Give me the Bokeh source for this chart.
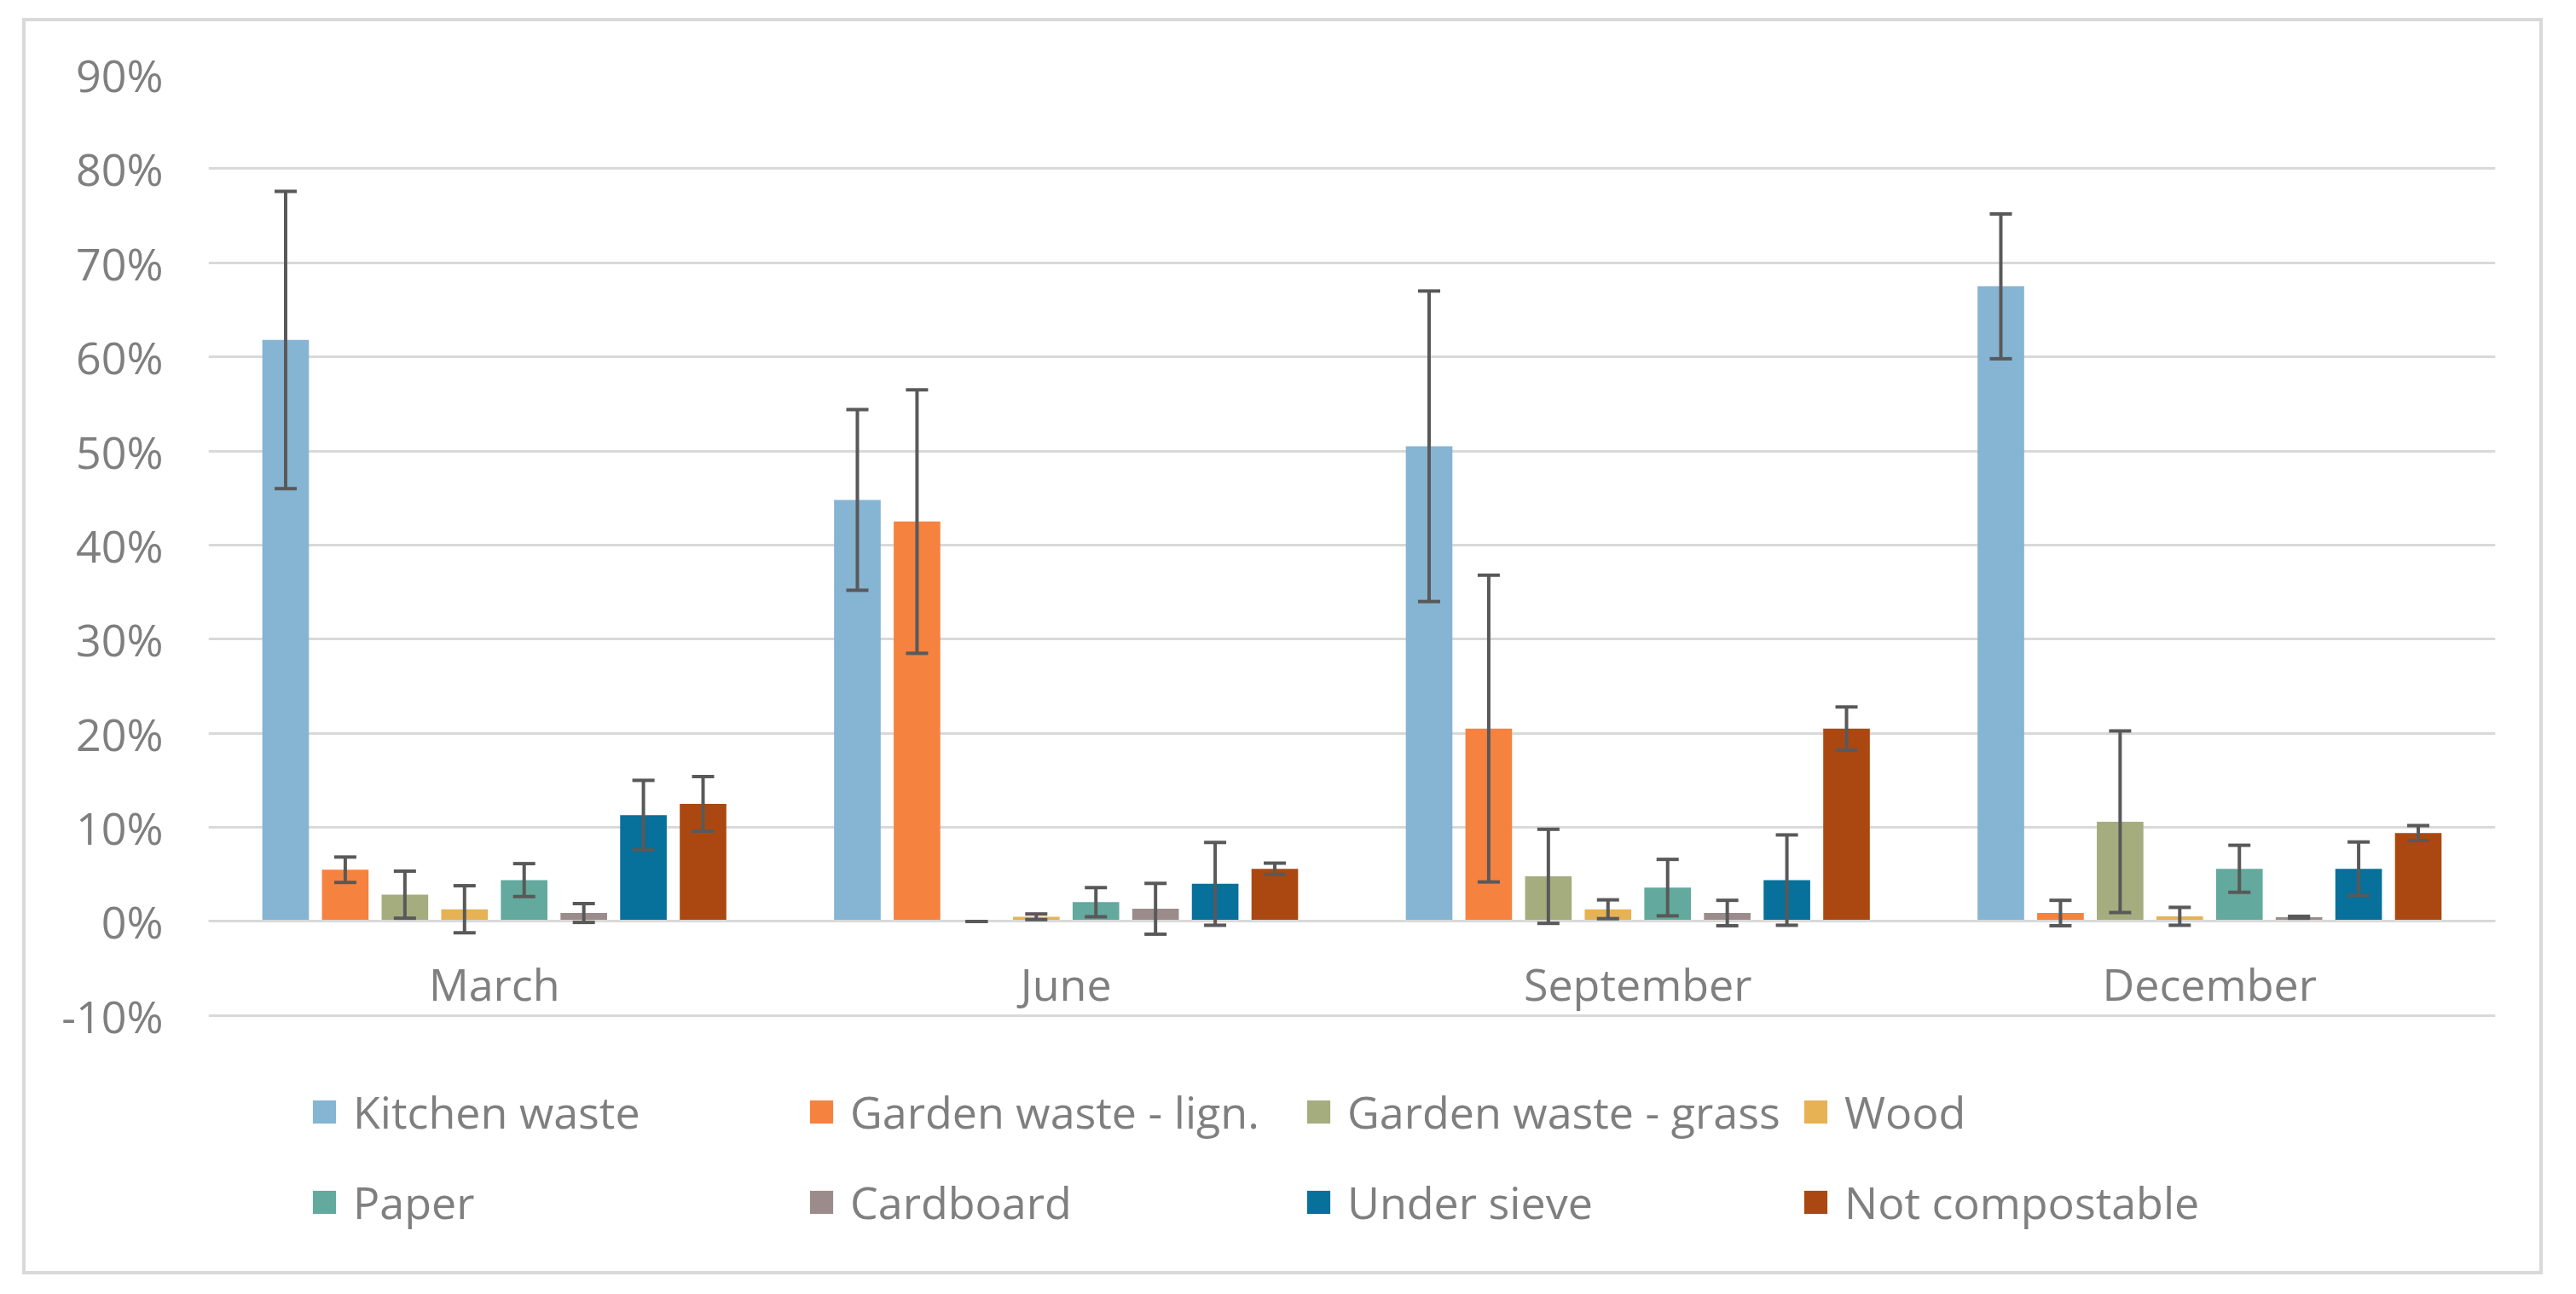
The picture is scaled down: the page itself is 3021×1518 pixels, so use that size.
from bokeh.plotting import figure
from bokeh.models import (ColumnDataSource, FactorRange, Range1d, Whisker, TeeHead,
                          Legend, LegendItem, FixedTicker, PrintfTickFormatter)
from bokeh.transform import dodge
from bokeh.embed import file_html
from bokeh.resources import INLINE

# ---------------- data ----------------
months = ["March", "June", "September", "December"]
series_names = ["Kitchen waste", "Garden waste - lign.", "Garden waste - grass", "Wood",
                "Paper", "Cardboard", "Under sieve", "Not compostable"]
series_colors = ["#86B4D3", "#F6823F", "#A5AD7F", "#E6B254",
                 "#63A99D", "#9B8C8B", "#07709B", "#AB4811"]

kitchen_waste = [61.8, 44.8, 50.5, 67.5]
kitchen_waste_err = [15.8, 9.6, 16.5, 7.7]
garden_lign = [5.5, 42.5, 20.5, 0.9]
garden_lign_err = [1.35, 14.0, 16.3, 1.35]
garden_grass = [2.85, 0.0, 4.8, 10.6]
garden_grass_err = [2.5, 0.0, 5.0, 9.65]
wood = [1.3, 0.5, 1.3, 0.55]
wood_err = [2.5, 0.3, 1.0, 0.95]
paper = [4.4, 2.05, 3.6, 5.6]
paper_err = [1.75, 1.55, 3.0, 2.5]
cardboard = [0.9, 1.35, 0.9, 0.45]
cardboard_err = [1.0, 2.7, 1.35, 0.1]
under_sieve = [11.3, 4.0, 4.4, 5.6]
under_sieve_err = [3.7, 4.4, 4.8, 2.85]
not_compostable = [12.5, 5.6, 20.5, 9.4]
not_compostable_err = [2.9, 0.6, 2.3, 0.8]

y_ticks = [-10, 0, 10, 20, 30, 40, 50, 60, 70, 80, 90]

series_values = [kitchen_waste, garden_lign, garden_grass, wood,
                 paper, cardboard, under_sieve, not_compostable]
series_errors = [kitchen_waste_err, garden_lign_err, garden_grass_err, wood_err,
                 paper_err, cardboard_err, under_sieve_err, not_compostable_err]

# ---------------- figure ----------------
FONT = "Open Sans"
TEXT_COLOR = "#7f7f7f"
GRID_COLOR = "#d9d9d9"
ERR_COLOR = "#595959"

# the plot frame extends below the -10% line so the legend can sit inside it
y_bottom = -36.1

p = figure(x_range=FactorRange(*months, range_padding=0, factor_padding=0),
           y_range=Range1d(y_bottom, y_ticks[-1]),
           width=2956, height=1474,
           output_backend="svg", toolbar_location=None, tools="",
           min_border_left=214, min_border_right=60,
           min_border_top=62, min_border_bottom=20)
p.margin = (21, 0, 0, 26)
p.styles = {"border": "4px solid #d9d9d9"}
p.outline_line_color = None
p.background_fill_color = "white"
p.border_fill_color = "white"

step = 0.1043
bar_w = 0.0815
legend_items = []
for i, (name, color, vals, errs) in enumerate(zip(series_names, series_colors,
                                                   series_values, series_errors)):
    off = (i - 3.5) * step
    src = ColumnDataSource(dict(
        month=months, top=vals,
        upper=[v + e for v, e in zip(vals, errs)],
        lower=[v - e for v, e in zip(vals, errs)]))
    r = p.vbar(x=dodge("month", off, range=p.x_range), top="top", bottom=0,
               width=bar_w, source=src, fill_color=color, line_color=None)
    w = Whisker(base=dodge("month", off, range=p.x_range), upper="upper", lower="lower",
                source=src, line_color=ERR_COLOR, line_width=4, level="annotation",
                upper_head=TeeHead(size=26, line_color=ERR_COLOR, line_width=4),
                lower_head=TeeHead(size=26, line_color=ERR_COLOR, line_width=4))
    p.add_layout(w)
    legend_items.append(LegendItem(label=name, renderers=[r]))

# grid
p.xgrid.grid_line_color = None
p.ygrid.grid_line_color = GRID_COLOR
p.ygrid.grid_line_width = 3
p.ygrid.ticker = FixedTicker(ticks=y_ticks)

# y axis
p.yaxis.ticker = FixedTicker(ticks=y_ticks)
p.yaxis.formatter = PrintfTickFormatter(format="%d%%")
p.yaxis.axis_line_color = None
p.yaxis.major_tick_line_color = None
p.yaxis.minor_tick_line_color = None
p.yaxis.major_tick_out = 0
p.yaxis.major_tick_in = 0
p.yaxis.major_label_standoff = 53
p.yaxis.major_label_text_font = FONT
p.yaxis.major_label_text_font_size = "52px"
p.yaxis.major_label_text_color = TEXT_COLOR

# x axis at zero
p.xaxis.fixed_location = 0
p.xaxis.axis_line_color = GRID_COLOR
p.xaxis.axis_line_width = 3
p.xaxis.major_tick_line_color = None
p.xaxis.minor_tick_line_color = None
p.xaxis.major_tick_out = 0
p.xaxis.major_tick_in = 0
p.xaxis.major_label_standoff = 37
p.xaxis.major_label_text_font = FONT
p.xaxis.major_label_text_font_size = "52px"
p.xaxis.major_label_text_color = TEXT_COLOR

# legend: four columns of two entries each
col_pitch = 583
for k in range(4):
    lg = Legend(items=[legend_items[k], legend_items[k + 4]],
                location=(119 + col_pitch * k, 34), orientation="vertical",
                glyph_width=34, glyph_height=34, label_standoff=17,
                spacing=35, padding=0, margin=0,
                border_line_color=None, background_fill_alpha=0,
                label_text_font=FONT, label_text_font_size="52px",
                label_text_color=TEXT_COLOR)
    p.add_layout(lg)

open("out.html", "w").write(file_html(p, INLINE))
